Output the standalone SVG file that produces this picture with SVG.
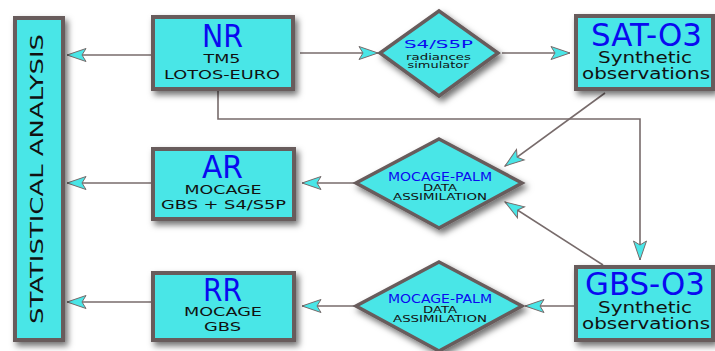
<svg xmlns="http://www.w3.org/2000/svg" width="715" height="351" viewBox="0 0 715 351">
<style>
.box{fill:#4ae6e7;stroke:#685c5c;stroke-width:4;filter:url(#sh)}
.dia{fill:#4ae6e7;stroke:#685c5c;stroke-width:3.5;filter:url(#sh)}
.con{fill:none;stroke:#776b6b;stroke-width:1.6;marker-end:url(#ah)}
text{font-family:"DejaVu Sans","Liberation Sans",sans-serif;text-anchor:middle}
.big{fill:#0a0af0;font-size:32px}
.blue{fill:#0a0af0}
.blk{fill:#111}
</style>
<defs>
<filter id="sh" x="-20%" y="-20%" width="150%" height="150%">
<feDropShadow dx="3" dy="4" stdDeviation="3" flood-color="#000" flood-opacity="0.55"/>
</filter>
<marker id="ah" markerUnits="userSpaceOnUse" markerWidth="22" markerHeight="16" refX="19" refY="7" orient="auto" overflow="visible">
<path d="M19,7 L0,0.5 L4,7 L0,13.5 Z" fill="#4ae6e7" stroke="#776b6b" stroke-width="1"/>
</marker>
</defs>

<g id="connectors">
<path class="con" d="M152,55 H67"/>
<path class="con" d="M300,53 H378"/>
<path class="con" d="M502,53 H570"/>
<path class="con" d="M605,93 L505,166"/>
<path class="con" d="M218,89 V119 H640 V260"/>
<path class="con" d="M603,265 L505,202"/>
<path class="con" d="M355,183 H302"/>
<path class="con" d="M152,183 H67"/>
<path class="con" d="M355,306 H302"/>
<path class="con" d="M152,302 H67"/>
<path class="con" d="M575,306 H525"/>
</g>

<g id="stat">
<rect class="box" x="15" y="18" width="48" height="322"/>
<text class="blk" transform="translate(43,179) rotate(-90)" font-size="17" textLength="290" lengthAdjust="spacingAndGlyphs">STATISTICAL ANALYSIS</text>
</g>

<g id="nr">
<rect class="box" x="153" y="17" width="140" height="72"/>
<text class="big" x="222.5" y="47" textLength="41" lengthAdjust="spacingAndGlyphs">NR</text>
<text class="blk" x="222" y="63" font-size="12" textLength="37" lengthAdjust="spacingAndGlyphs">TM5</text>
<text class="blk" x="222" y="79" font-size="12" textLength="116" lengthAdjust="spacingAndGlyphs">LOTOS-EURO</text>
</g>

<g id="s4s5p">
<polygon class="dia" points="439,11 498,53 439,96 380,53"/>
<text class="blue" x="438.5" y="48" font-size="11" textLength="69" lengthAdjust="spacingAndGlyphs">S4/S5P</text>
<text class="blk" x="438.5" y="60" font-size="8.5" textLength="65" lengthAdjust="spacingAndGlyphs">radiances</text>
<text class="blk" x="438" y="68" font-size="8.5" textLength="61" lengthAdjust="spacingAndGlyphs">simulator</text>
</g>

<g id="sat">
<rect class="box" x="576" y="16" width="137" height="73"/>
<text class="big" x="646.5" y="46" textLength="111" lengthAdjust="spacingAndGlyphs">SAT-O3</text>
<text class="blk" x="645" y="63" font-size="15" textLength="94" lengthAdjust="spacingAndGlyphs">Synthetic</text>
<text class="blk" x="646" y="79" font-size="15" textLength="128" lengthAdjust="spacingAndGlyphs">observations</text>
</g>

<g id="ar">
<rect class="box" x="153" y="149" width="141" height="70"/>
<text class="big" x="222.5" y="178" textLength="41" lengthAdjust="spacingAndGlyphs">AR</text>
<text class="blk" x="223" y="194" font-size="12" textLength="77" lengthAdjust="spacingAndGlyphs">MOCAGE</text>
<text class="blk" x="223.5" y="209" font-size="12" textLength="125" lengthAdjust="spacingAndGlyphs">GBS + S4/S5P</text>
</g>

<g id="palm1">
<polygon class="dia" points="439,139 522,183 439,228 356,183"/>
<text class="blue" x="440" y="181" font-size="13" textLength="104" lengthAdjust="spacingAndGlyphs">MOCAGE-PALM</text>
<text class="blk" x="440" y="191" font-size="8.5" textLength="34" lengthAdjust="spacingAndGlyphs">DATA</text>
<text class="blk" x="440" y="200" font-size="8.5" textLength="94" lengthAdjust="spacingAndGlyphs">ASSIMILATION</text>
</g>

<g id="rr">
<rect class="box" x="153" y="273" width="141" height="67"/>
<text class="big" x="222.5" y="301" textLength="39" lengthAdjust="spacingAndGlyphs">RR</text>
<text class="blk" x="223" y="316" font-size="12" textLength="78" lengthAdjust="spacingAndGlyphs">MOCAGE</text>
<text class="blk" x="222.5" y="331" font-size="12" textLength="37" lengthAdjust="spacingAndGlyphs">GBS</text>
</g>

<g id="palm2">
<polygon class="dia" points="439,262 522,306 439,351 356,306"/>
<text class="blue" x="440" y="303" font-size="13" textLength="104" lengthAdjust="spacingAndGlyphs">MOCAGE-PALM</text>
<text class="blk" x="440" y="313" font-size="8.5" textLength="34" lengthAdjust="spacingAndGlyphs">DATA</text>
<text class="blk" x="440" y="322" font-size="8.5" textLength="94" lengthAdjust="spacingAndGlyphs">ASSIMILATION</text>
</g>

<g id="gbs">
<rect class="box" x="576" y="267" width="137" height="73"/>
<text class="big" x="645" y="295" font-size="31" textLength="120" lengthAdjust="spacingAndGlyphs">GBS-O3</text>
<text class="blk" x="645" y="313" font-size="15" textLength="94" lengthAdjust="spacingAndGlyphs">Synthetic</text>
<text class="blk" x="646" y="329" font-size="15" textLength="128" lengthAdjust="spacingAndGlyphs">observations</text>
</g>
</svg>
